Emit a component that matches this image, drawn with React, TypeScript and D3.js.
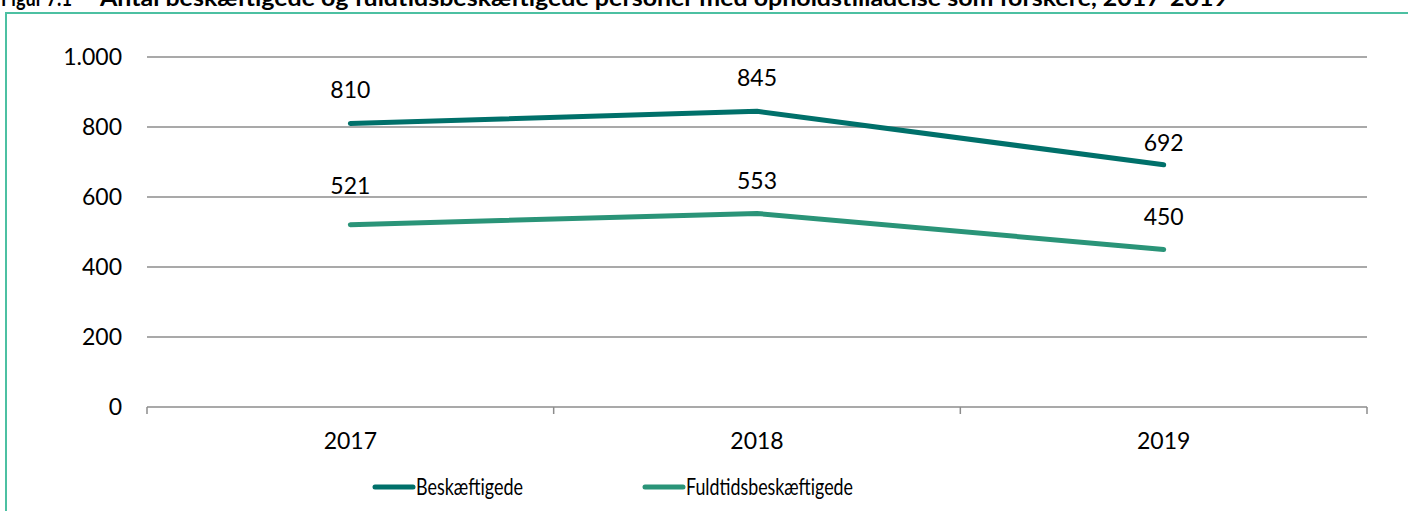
import React from "react";
import * as d3 from "d3";

const years = ["2017", "2018", "2019"];
const beskaeftigede = [810, 845, 692];
const fuldtids = [521, 553, 450];
const yTicks = [0, 200, 400, 600, 800, 1000];
const seriesNames = ["Beskæftigede", "Fuldtidsbeskæftigede"];
const seriesColors = ["#00706A", "#2A9478"];
const titleLabel = "Figur 7.1";
const titleText = "Antal beskæftigede og fuldtidsbeskæftigede personer med opholdstilladelse som forskere, 2017-2019";

const W = 1408, H = 511;
const FONT = "Lato, 'Open Sans', sans-serif";
// layout: vertical offset of each data label above its point (px)
const labelOffsets = [[34, 33, 22], [39, 33, 33]];
const legendX = [375, 645];
const legendTextLen = [107, 167];

export default function App() {
  const x = d3.scaleBand<string>().domain(years).range([147, 1367]);
  const y = d3.scaleLinear().domain([0, 1000]).range([407, 57]);
  const fmt = (v: number) => d3.format(",")(v).replace(/,/g, ".");
  const cx = (i: number) => (x(years[i]) as number) + x.bandwidth() / 2;
  const line = d3.line<number>().x((_, i) => cx(i)).y((d) => y(d));
  const series = [beskaeftigede, fuldtids];
  const bandTicks = [...years.map((yr) => x(yr) as number), 1367];

  return (
    <svg width={W} height={H} style={{ position: "absolute", left: 0, top: 0, background: "#fff" }} fontFamily={FONT}>
      <text x={1} y={6} fontSize={22} fontWeight="bold" fill="#000" textLength={71} lengthAdjust="spacingAndGlyphs">{titleLabel}</text>
      <text x={100} y={6} fontSize={22} fontWeight="bold" fill="#000" textLength={1128} lengthAdjust="spacingAndGlyphs">{titleText}</text>
      <line x1={5} x2={W} y1={13} y2={13} stroke="#4CC0A2" strokeWidth={2} />
      <line x1={6} x2={6} y1={12} y2={H} stroke="#4CC0A2" strokeWidth={2} />
      {yTicks.map((t) => (
        <g key={t}>
          {t > 0 && <line x1={147} x2={1367} y1={y(t)} y2={y(t)} stroke="#8c8c8c" strokeWidth={1.3} />}
          <text x={122} y={y(t)} dy="0.35em" textAnchor="end" fontSize={23} fill="#000">{fmt(t)}</text>
        </g>
      ))}
      <line x1={147} x2={1367} y1={y(0)} y2={y(0)} stroke="#8c8c8c" strokeWidth={1.5} />
      {bandTicks.map((bx, i) => (
        <line key={i} x1={bx} x2={bx} y1={y(0)} y2={y(0) + 7} stroke="#8c8c8c" strokeWidth={1.5} />
      ))}
      {years.map((yr, i) => (
        <text key={yr} x={cx(i)} y={441} dy="0.35em" textAnchor="middle" fontSize={23} fill="#000">{yr}</text>
      ))}
      {series.map((s, si) => (
        <g key={si}>
          <path d={line(s) as string} fill="none" stroke={seriesColors[si]} strokeWidth={5} strokeLinecap="round" strokeLinejoin="round" />
          {s.map((v, i) => (
            <text key={i} x={cx(i)} y={y(v) - labelOffsets[si][i]} dy="0.35em" textAnchor="middle" fontSize={23} fill="#000">{fmt(v)}</text>
          ))}
        </g>
      ))}
      {seriesNames.map((n, i) => (
        <g key={n}>
          <line x1={legendX[i]} x2={legendX[i] + 38} y1={487} y2={487} stroke={seriesColors[i]} strokeWidth={5} strokeLinecap="round" />
          <text x={legendX[i] + 41} y={487} dy="0.35em" fontSize={23} fill="#000" textLength={legendTextLen[i]} lengthAdjust="spacingAndGlyphs">{n}</text>
        </g>
      ))}
    </svg>
  );
}
